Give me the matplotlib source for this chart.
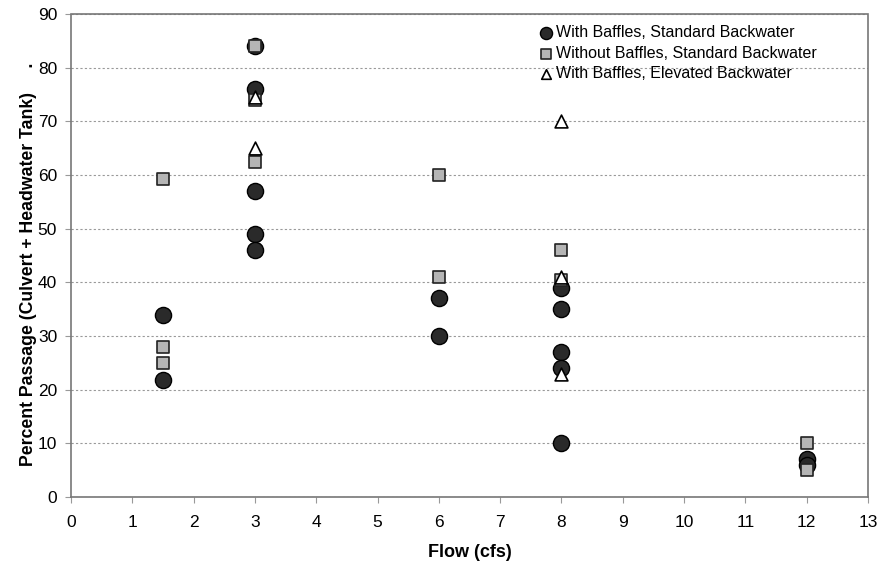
import matplotlib
matplotlib.use("Agg")
import matplotlib.pyplot as plt
from matplotlib.patches import Rectangle

plt.rcParams['font.family'] = ['Liberation Sans', 'DejaVu Sans']

# With Baffles, Standard Backwater
wb_std_x = [1.5, 1.5, 3, 3, 3, 3, 3, 6, 6, 8, 8, 8, 8, 8, 12, 12]
wb_std_y = [34, 21.8, 84, 76, 57, 49, 46, 37, 30, 39, 35, 27, 24, 10, 7, 6]
# Without Baffles, Standard Backwater
wob_std_x = [1.5, 1.5, 1.5, 3, 3, 3, 6, 6, 8, 8, 12, 12]
wob_std_y = [59.2, 28, 25, 84, 74, 62.5, 60, 41, 46, 40.5, 10, 5]
# With Baffles, Elevated Backwater
wb_elev_x = [3, 3, 8, 8, 8]
wb_elev_y = [74.5, 65, 70, 41, 23]

xticks = list(range(0, 14))
yticks = list(range(0, 100, 10))

fig = plt.figure(figsize=(8.78, 5.63), dpi=100)
ax = fig.add_axes([71/878, 66/563, (868-71)/878, (497-14)/563])

ax.scatter(wb_std_x, wb_std_y, s=135, marker='o', facecolor='#2a2a2a',
           edgecolor='black', linewidth=1.0, zorder=3,
           label='With Baffles, Standard Backwater')
ax.scatter(wob_std_x, wob_std_y, s=80, marker='s', facecolor='#b5b5b5',
           edgecolor='#222222', linewidth=1.2, zorder=4,
           label='Without Baffles, Standard Backwater')
ax.scatter(wb_elev_x, wb_elev_y, s=85, marker='^', facecolor='white',
           edgecolor='black', linewidth=1.2, zorder=5,
           label='With Baffles, Elevated Backwater')

# white legend background area (covers gridline behind legend)
ax.add_patch(Rectangle(((500 - 71) / 797, (497 - 95) / 483), (860 - 500) / 797, 80 / 483,
                       transform=ax.transAxes, facecolor='white', edgecolor='none',
                       zorder=1.5))

ax.set_xlim(0, 13)
ax.set_ylim(0, 90)
ax.set_xticks(xticks)
ax.set_yticks(yticks)
ax.tick_params(labelsize=12.5, length=4, color='#999999', direction='out')
ax.tick_params(axis='x', pad=9)
ax.tick_params(axis='y', pad=6)
ax.grid(axis='y', color='#999999', linestyle=(0, (2, 2)), linewidth=0.8, zorder=0)
for sp in ax.spines.values():
    sp.set_color('#777777')
    sp.set_linestyle((0, (1, 1)))
    sp.set_linewidth(1.2)

ax.set_xlabel('Flow (cfs)', fontsize=13, fontweight='bold', labelpad=10)
ax.set_ylabel('Percent Passage (Culvert + Headwater Tank)     .', fontsize=12.7,
              fontweight='bold')
ax.yaxis.set_label_coords((37 - 71) / 797, (497 - 264) / 483)

leg = ax.legend(loc='upper right', bbox_to_anchor=(757 / 797, 1.0), frameon=False,
                fontsize=11.5, handletextpad=0.1, labelspacing=0.35,
                borderaxespad=0.3, markerscale=0.75, handlelength=1.0,
                borderpad=0.4)
leg.set_zorder(10)

fig.savefig('out.png', dpi=100)
